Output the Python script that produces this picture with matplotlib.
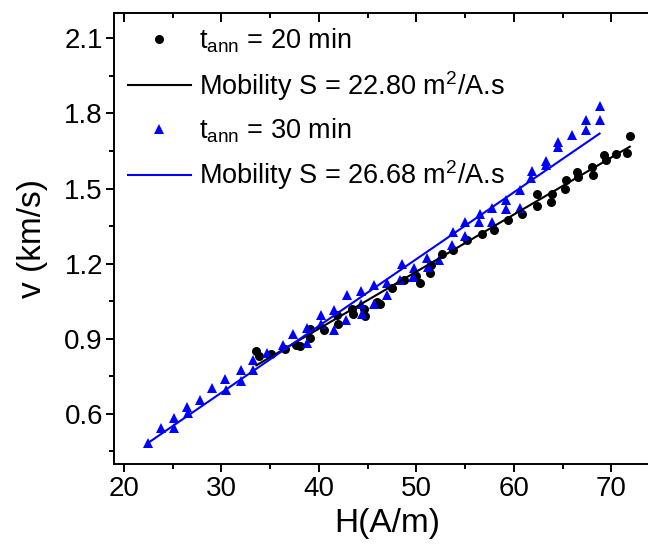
import numpy as np
import matplotlib
matplotlib.use('Agg')
import matplotlib.pyplot as plt
from matplotlib.ticker import MultipleLocator

plt.rcParams['font.family'] = ['Liberation Sans', 'DejaVu Sans']
plt.rcParams['mathtext.fontset'] = 'custom'
plt.rcParams['mathtext.rm'] = 'Liberation Sans'

# t_ann = 20 min
H20 = [33.6, 33.9, 35.1, 36.5, 37.7, 38.1, 39.1, 39.1, 40.5, 41.9, 42.0, 43.4, 43.5,
       44.6, 44.7, 46.0, 46.3, 47.5, 48.7, 50.0, 50.4, 51.4, 51.5, 52.6, 53.8, 55.2,
       56.7, 58.0, 59.4, 60.8, 62.4, 62.4, 63.8, 63.9, 65.3, 65.4, 66.5, 66.6, 68.0,
       68.1, 69.3, 69.5, 70.5, 71.6, 71.9]
v20 = [0.852, 0.830, 0.838, 0.858, 0.875, 0.872, 0.905, 0.941, 0.937, 0.994, 0.961, 1.021, 0.998,
       1.021, 0.990, 1.047, 1.041, 1.101, 1.134, 1.150, 1.121, 1.163, 1.194, 1.240, 1.254, 1.294,
       1.320, 1.333, 1.373, 1.397, 1.480, 1.429, 1.446, 1.480, 1.500, 1.533, 1.566, 1.546, 1.586,
       1.553, 1.633, 1.613, 1.639, 1.642, 1.708]

# t_ann = 30 min
H30 = [22.5, 23.8, 25.2, 25.2, 26.5, 26.6, 27.8, 29.1, 30.4, 30.5, 32.0, 32.0, 33.3, 33.3,
       34.7, 36.3, 37.4, 38.8, 38.8, 40.2, 40.2, 41.6, 41.6, 42.9, 42.8, 44.3, 44.3, 44.4,
       45.7, 45.7, 47.0, 47.0, 48.5, 48.3, 49.8, 49.7, 51.1, 51.2, 52.3, 53.7, 53.8, 55.0,
       55.0, 56.5, 56.4, 57.8, 57.8, 59.2, 59.2, 60.6, 60.6, 61.9, 61.8, 63.3, 63.3, 64.5,
       64.5, 66.0, 67.4, 67.4, 68.8, 68.8]
v30 = [0.485, 0.542, 0.582, 0.545, 0.626, 0.605, 0.655, 0.702, 0.739, 0.695, 0.775, 0.730, 0.815, 0.775,
       0.842, 0.875, 0.921, 0.944, 0.885, 0.994, 0.961, 1.014, 0.934, 1.074, 0.974, 1.091, 1.041, 1.001,
       1.114, 1.041, 1.121, 1.074, 1.200, 1.134, 1.181, 1.147, 1.221, 1.187, 1.214, 1.274, 1.327, 1.367,
       1.310, 1.397, 1.365, 1.423, 1.367, 1.453, 1.418, 1.496, 1.424, 1.570, 1.542, 1.609, 1.593, 1.685,
       1.668, 1.712, 1.775, 1.735, 1.828, 1.775]

# linear fits: v = S*H/1000 + b
S20, b20 = 22.80, 0.028
S30, b30 = 26.68, -0.116

fig = plt.figure(figsize=(6.48, 5.48), dpi=100)
ax = fig.add_axes([114/648, 84/548, 546/648, 450.7/548])

p1, = ax.plot(H20, v20, 'o', color='black', ms=6.5, mew=0, label=r'$\mathregular{t_{ann}}$ = 20 min')
p3, = ax.plot(H30, v30, '^', color='blue', ms=7.5, mew=0, label=r'$\mathregular{t_{ann}}$ = 30 min')

x20 = np.array([min(H20), max(H20)])
x30 = np.array([min(H30), max(H30)])
p2, = ax.plot(x20, S20 * x20 / 1000 + b20, '-', color='black', lw=1.5,
              label='Mobility S = %.2f m$^\\mathregular{2}$/A.s' % S20)
p4, = ax.plot(x30, S30 * x30 / 1000 + b30, '-', color='blue', lw=1.5,
              label='Mobility S = %.2f m$^\\mathregular{2}$/A.s' % S30)

ax.set_xlim(19, 75)
ax.set_ylim(0.4, 2.2)
ax.xaxis.set_major_locator(MultipleLocator(10))
ax.xaxis.set_minor_locator(MultipleLocator(5))
ax.yaxis.set_major_locator(MultipleLocator(0.3))
ax.yaxis.set_minor_locator(MultipleLocator(0.15))
ax.yaxis.set_major_formatter(plt.FormatStrFormatter('%.1f'))

for s in ax.spines.values():
    s.set_linewidth(1.4)

ax.tick_params(which='both', bottom=True, left=True, top=True, right=False,
               width=1.4, labelsize=20)
ax.tick_params(axis='x', which='major', direction='out', length=6, pad=3)
ax.tick_params(axis='x', which='minor', direction='out', length=3.5)
ax.tick_params(axis='y', which='major', direction='out', length=6, pad=2)
ax.tick_params(axis='y', which='minor', direction='out', length=3.5)
ax.xaxis.set_tick_params(which='both', labeltop=False)
# top ticks point inward
for t in ax.xaxis.get_major_ticks():
    t.tick2line.set_marker(3)
    t.tick2line.set_markersize(6.5)
for t in ax.xaxis.get_minor_ticks():
    t.tick2line.set_marker(3)
    t.tick2line.set_markersize(3.5)

ax.set_xlabel('H(A/m)', fontsize=24, labelpad=4)
ax.set_ylabel('v (km/s)', fontsize=24, labelpad=12)

ax.legend(handles=[p1, p2, p3, p4], loc='upper left', frameon=False, fontsize=19.5,
          numpoints=1, handlelength=2.35, handletextpad=0.3, borderaxespad=0.2,
          labelspacing=0.5, borderpad=0.3)

fig.savefig('out.png', dpi=100)
